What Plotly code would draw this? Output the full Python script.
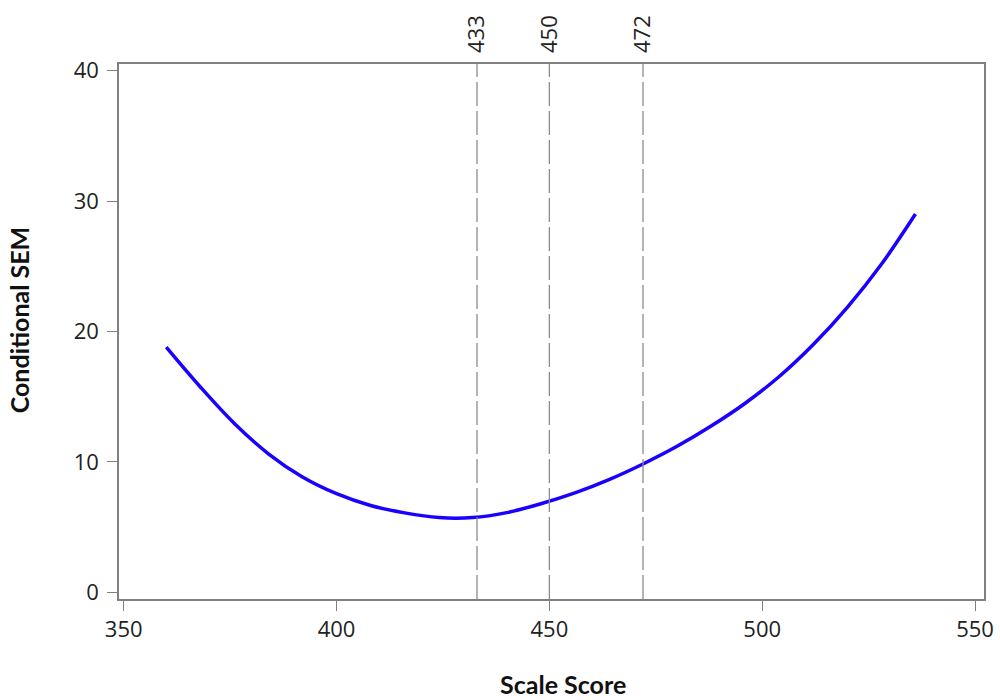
import plotly.graph_objects as go

# Data
scale_score = [360, 368, 376, 384, 392, 400, 408, 416, 424, 432, 440, 448,
               456, 464, 472, 480, 488, 496, 504, 512, 520, 528, 536]
cond_sem = [18.8, 15.75, 12.95, 10.63, 8.85, 7.57, 6.67, 6.1, 5.74, 5.74, 6.12, 6.8,
            7.63, 8.65, 9.85, 11.2, 12.75, 14.5, 16.55, 19.0, 21.85, 25.15, 29.0]
cut_scores = [433, 450, 472]
x_ticks = [350, 400, 450, 500, 550]
y_ticks = [0, 10, 20, 30, 40]

AX = "#808080"
TICKFONT = dict(family="Open Sans", size=22, color="#222222")
TITLEFONT = dict(family="Lato", size=25, color="#111111")

fig = go.Figure()
fig.add_trace(go.Scatter(
    x=scale_score, y=cond_sem, mode="lines",
    line=dict(color="#1a00ff", width=3.5, shape="spline"),
    showlegend=False, hoverinfo="x+y",
))

for c in cut_scores:
    fig.add_shape(type="line", xref="x", yref="paper", x0=c, x1=c, y0=0, y1=1,
                  line=dict(color="#8c8c8c", width=1.3, dash="24px,5px"))

# invisible trace on top axis so it is drawn
fig.add_trace(go.Scatter(x=cut_scores, y=[None] * len(cut_scores), xaxis="x2",
                         showlegend=False, hoverinfo="skip"))

fig.update_layout(
    width=1000, height=700,
    margin=dict(l=119, r=16, t=64, b=101),
    paper_bgcolor="white", plot_bgcolor="white",
    xaxis=dict(
        range=[348.9, 552.1], tickvals=x_ticks, ticktext=[str(v) for v in x_ticks],
        showline=True, linecolor=AX, linewidth=1.5, mirror=True, automargin=False,
        ticks="outside", ticklen=10, tickcolor=AX, tickwidth=1.2,
        showgrid=False, zeroline=False, tickfont=TICKFONT,
    ),
    xaxis2=dict(
        overlaying="x", side="top", matches="x", range=[348.9, 552.1],
        tickvals=cut_scores, ticktext=[str(v) for v in cut_scores], automargin=False,
        tickangle=-90, ticks="", showline=False, showgrid=False, zeroline=False,
        tickfont=dict(family="Open Sans", size=22, color="#222222"),
        ticklabelstandoff=10,
    ),
    yaxis=dict(
        range=[-0.5, 40.5], tickvals=y_ticks, ticktext=[str(v) for v in y_ticks],
        showline=True, linecolor=AX, linewidth=1.5, mirror=True, automargin=False,
        ticks="outside", ticklen=10, tickcolor=AX, tickwidth=1.2,
        showgrid=False, zeroline=False, tickfont=TICKFONT, ticklabelstandoff=4,
    ),
    annotations=[
        dict(text="<b>Scale Score</b>", xref="paper", yref="paper", x=0.5135, y=0,
             yshift=-85, yanchor="middle", xanchor="center", showarrow=False,
             font=TITLEFONT),
        dict(text="<b>Conditional SEM</b>", xref="paper", yref="paper", x=0, y=0.521,
             xshift=-100, xanchor="center", yanchor="middle", textangle=-90,
             showarrow=False, font=TITLEFONT),
    ],
)

fig.write_html("out.html")
